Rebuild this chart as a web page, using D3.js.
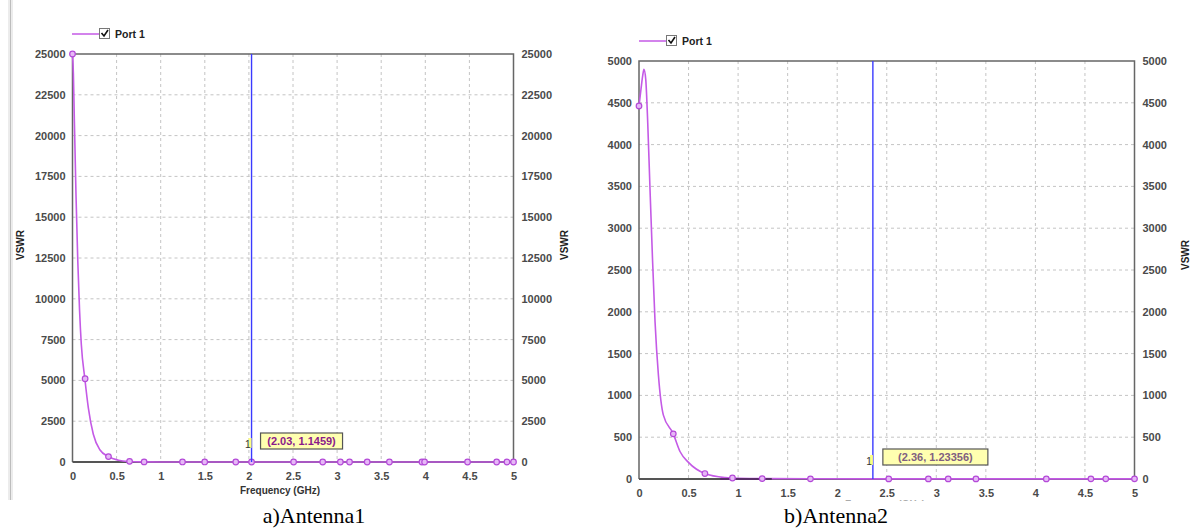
<!DOCTYPE html>
<html><head><meta charset="utf-8">
<script src="https://cdn.jsdelivr.net/npm/d3@7/dist/d3.min.js"></script>
<style>body{margin:0;background:#fff}svg{display:block}</style>
</head><body>
<svg id="c" width="1190" height="530"></svg>
<script>
// ---------- data ----------
const xTicks = [0, 0.5, 1, 1.5, 2, 2.5, 3, 3.5, 4, 4.5, 5];
const xTickLabels = ["0", "0.5", "1", "1.5", "2", "2.5", "3", "3.5", "4", "4.5", "5"];
const yTicks1 = [0, 2500, 5000, 7500, 10000, 12500, 15000, 17500, 20000, 22500, 25000];
const yTicks2 = [0, 500, 1000, 1500, 2000, 2500, 3000, 3500, 4000, 4500, 5000];

// Antenna 1 curve (GHz, VSWR)
const freq1 = [0, 0.01, 0.02, 0.04, 0.06, 0.08, 0.1, 0.14, 0.18, 0.236, 0.31, 0.41, 0.52, 0.63, 0.8, 1.0, 2.03, 3.0, 4.0, 5.0];
const vswr1 = [25000, 23800, 21200, 16300, 12300, 9300, 7200, 5100, 3300, 1700, 750, 320, 110, 30, 6, 2, 1.1459, 1.3, 1.4, 1.5];
const markF1 = [0, 0.143, 0.408, 0.647, 0.812, 1.247, 1.499, 1.851, 2.03, 2.507, 2.837, 3.037, 3.141, 3.341, 3.593, 3.962, 3.992, 4.479, 4.809, 4.926, 5.0];
const markV1 = [25000, 5100, 330, 40, 5, 2, 1.8, 1.5, 1.1459, 1.3, 1.3, 1.3, 1.3, 1.3, 1.4, 1.4, 1.4, 1.4, 1.5, 1.5, 1.5];

// Antenna 2 curve
const freq2 = [0, 0.02, 0.037, 0.05, 0.068, 0.088, 0.111, 0.135, 0.162, 0.196, 0.246, 0.346, 0.415, 0.499, 0.665, 0.87, 1.0, 1.3, 2.36, 3.5, 5.0];
const vswr2 = [4463, 4662, 4821, 4900, 4781, 4264, 3469, 2673, 1877, 1241, 764, 540, 326, 199, 65, 16, 8, 4, 1.23356, 1.4, 1.5];
const markF2 = [0, 0.346, 0.665, 0.943, 1.243, 1.73, 2.52, 2.92, 3.12, 3.40, 4.11, 4.56, 4.71, 5.0];
const markV2 = [4463, 540, 65, 12, 5, 2, 1.3, 1.3, 1.3, 1.4, 1.4, 1.5, 1.5, 1.5];
const darkSeg2 = [0.82, 1.34];

const markerFreq = [2.03, 2.36];
const markerText = ["(2.03, 1.1459)", "(2.36, 1.23356)"];
const captions = ["a)Antenna1", "b)Antenna2"];

// ---------- drawing ----------
const svg = d3.select("#c");
const LINE = "#c45ae6", MSTROKE = "#b44ad8", MFILL = "#e6b8f6";
const FONT = "'Liberation Sans', Arial, sans-serif";

// left screenshot strip
svg.append("rect").attr("x", 8).attr("y", 0).attr("width", 5).attr("height", 500).attr("fill", "#ececec");
svg.append("line").attr("x1", 10.5).attr("x2", 10.5).attr("y1", 0).attr("y2", 500).attr("stroke", "#bdbdbd");

function panel(o) {
  const x = d3.scaleLinear().domain([0, 5]).range([o.x0, o.x1]);
  const y = d3.scaleLinear().domain([0, o.ymax]).range([o.yb, o.yt]);
  const g = svg.append("g");

  // grid
  g.selectAll(".gx").data(xTicks.slice(1, -1)).join("line")
    .attr("x1", d => x(d)).attr("x2", d => x(d)).attr("y1", o.yt).attr("y2", o.yb)
    .attr("stroke", "#c4c4c4").attr("stroke-dasharray", "3,3");
  g.selectAll(".gy").data(o.yTicks.slice(1, -1)).join("line")
    .attr("x1", o.x0).attr("x2", o.x1).attr("y1", d => y(d)).attr("y2", d => y(d))
    .attr("stroke", "#c4c4c4").attr("stroke-dasharray", "3,3");

  const styleAxis = sel => {
    sel.select(".domain").remove();
    sel.selectAll(".tick line").remove();
    sel.selectAll("text").attr("font-family", FONT).attr("font-size", 11)
      .attr("font-weight", "bold").attr("fill", "#4a4a4a");
  };
  g.append("g").attr("transform", `translate(${o.x0},0)`)
    .call(d3.axisLeft(y).tickValues(o.yTicks).tickSize(0).tickPadding(7).tickFormat(d => String(d))).call(styleAxis);
  g.append("g").attr("transform", `translate(${o.x1},0)`)
    .call(d3.axisRight(y).tickValues(o.yTicks).tickSize(0).tickPadding(8).tickFormat(d => String(d))).call(styleAxis);
  g.append("g").attr("transform", `translate(0,${o.yb})`)
    .call(d3.axisBottom(x).tickValues(xTicks).tickSize(0).tickPadding(10).tickFormat((d, i) => xTickLabels[i])).call(styleAxis);

  // frame
  g.append("path").attr("d", `M${o.x0},${o.yb}V${o.yt}H${o.x1}V${o.yb}`)
    .attr("fill", "none").attr("stroke", "#666").attr("stroke-width", 1.5);
  g.append("line").attr("x1", o.x0).attr("x2", o.x1).attr("y1", o.yb).attr("y2", o.yb)
    .attr("stroke", "#555").attr("stroke-width", 2);

  // axis titles
  const vs = (cx, cy) => g.append("text").attr("transform", `translate(${cx},${cy}) rotate(-90)`)
    .attr("text-anchor", "middle").attr("font-family", FONT).attr("font-size", 10)
    .attr("font-weight", "bold").attr("fill", "#222").text("VSWR");
  if (o.leftTitle) vs(o.leftTitle[0], o.leftTitle[1]);
  vs(o.rightTitle[0], o.rightTitle[1]);
  g.append("text").attr("x", o.xTitle[0]).attr("y", o.xTitle[1]).attr("text-anchor", "middle")
    .attr("font-family", FONT).attr("font-size", 10).attr("font-weight", "bold").attr("fill", o.xTitleColor)
    .text("Frequency (GHz)");

  // curve
  const pts = o.f.map((f, i) => [f, o.v[i]]);
  g.append("path").datum(pts)
    .attr("d", d3.line().x(d => x(d[0])).y(d => y(d[1])).curve(d3.curveMonotoneX))
    .attr("fill", "none").attr("stroke", LINE).attr("stroke-width", 1.6);

  // dark segment on top
  if (o.dark) g.append("line").attr("x1", x(o.dark[0])).attr("x2", x(o.dark[1]))
    .attr("y1", y(0)).attr("y2", y(0)).attr("stroke", "#5a2e6a").attr("stroke-width", 2.2);

  // markers
  const mpts = o.mf.map((f, i) => [f, o.mv[i]]);
  g.selectAll(".m").data(mpts).join("circle")
    .attr("cx", d => x(d[0])).attr("cy", d => y(d[1])).attr("r", 2.8)
    .attr("fill", MFILL).attr("stroke", MSTROKE).attr("stroke-width", 1.2);

  // marker line
  const mx = x(o.mark);
  g.append("line").attr("x1", mx).attr("x2", mx).attr("y1", o.yt).attr("y2", o.yb)
    .attr("stroke", "#3a3aff").attr("stroke-width", 1.4);
  g.append("rect").attr("x", mx - 3).attr("y", o.yb - 24).attr("width", 3).attr("height", 10).attr("fill", "#ffff80");
  g.append("text").attr("x", mx - 1).attr("y", o.yb - 14).attr("text-anchor", "end")
    .attr("font-family", FONT).attr("font-size", 10).attr("fill", "#333").text("1");
  const bx = mx + o.boxDx, by = o.yb - o.boxDy;
  g.append("rect").attr("x", bx).attr("y", by).attr("width", o.boxW).attr("height", 16)
    .attr("fill", "#ffffb0").attr("stroke", "#555").attr("stroke-width", 1.2);
  g.append("text").attr("x", bx + o.boxW / 2).attr("y", by + 12).attr("text-anchor", "middle")
    .attr("font-family", FONT).attr("font-size", 11).attr("font-weight", "bold").attr("fill", o.boxColor)
    .text(o.boxText);

  // legend
  g.append("line").attr("x1", o.leg[0]).attr("x2", o.leg[0] + 27).attr("y1", o.leg[1]).attr("y2", o.leg[1])
    .attr("stroke", LINE).attr("stroke-width", 1.5);
  g.append("rect").attr("x", o.leg[0] + 27.5).attr("y", o.leg[1] - 5.5).attr("width", 10).attr("height", 10)
    .attr("fill", "#fff").attr("stroke", "#777");
  g.append("path").attr("d", `M${o.leg[0] + 29.5},${o.leg[1] - 1}l2.5,3l4,-6`)
    .attr("fill", "none").attr("stroke", "#111").attr("stroke-width", 1.6);
  g.append("text").attr("x", o.leg[0] + 43).attr("y", o.leg[1] + 4)
    .attr("font-family", FONT).attr("font-size", 10.5).attr("font-weight", "bold").attr("fill", "#222").text("Port 1");
}

panel({ x0: 72.5, x1: 513.5, yt: 54, yb: 462, ymax: 25000, yTicks: yTicks1,
  f: freq1, v: vswr1, mf: markF1, mv: markV1, mark: markerFreq[0],
  boxDx: 9, boxDy: 29, boxW: 82, boxText: markerText[0], boxColor: "#8a1a8a",
  leftTitle: [24, 245], rightTitle: [568, 245], xTitle: [280, 494], xTitleColor: "#333", leg: [72, 34] });

panel({ x0: 639, x1: 1134.5, yt: 61, yb: 479, ymax: 5000, yTicks: yTicks2,
  f: freq2, v: vswr2, mf: markF2, mv: markV2, mark: markerFreq[1], dark: darkSeg2,
  boxDx: 10, boxDy: 30, boxW: 105, boxText: markerText[1], boxColor: "#806080",
  leftTitle: null, rightTitle: [1189, 255], xTitle: [885, 508], xTitleColor: "#aaa", leg: [639, 41] });

// caption background (hides antenna-2 axis title as in the reference) and captions
svg.append("rect").attr("x", 600).attr("y", 501).attr("width", 590).attr("height", 29).attr("fill", "#fff");
svg.selectAll(".cap").data(captions).join("text")
  .attr("x", (d, i) => [314, 836][i]).attr("y", 523).attr("text-anchor", "middle")
  .attr("font-family", "'Liberation Serif', 'Times New Roman', serif").attr("font-size", 22)
  .attr("fill", "#000").text(d => d);
</script>
</body></html>
